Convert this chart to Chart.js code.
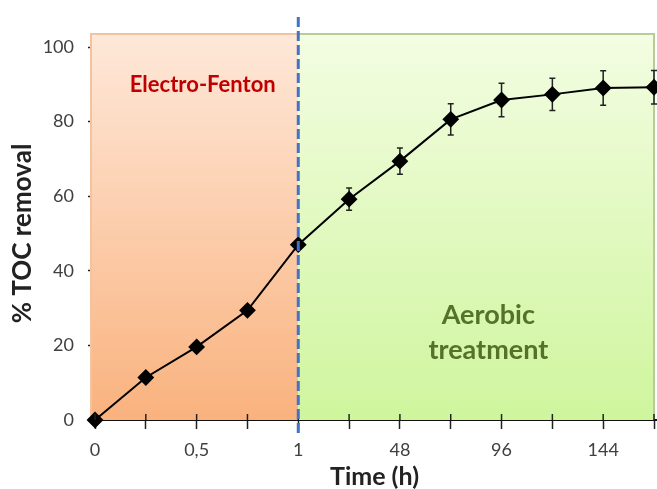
<!DOCTYPE html>
<html>
<head>
<meta charset="utf-8">
<script src="https://cdn.jsdelivr.net/npm/chart.js@4.4.0/dist/chart.umd.min.js"></script>
<style>
  html, body { margin: 0; padding: 0; background: #fff; }
  #wrap { width: 657px; height: 489px; }
</style>
</head>
<body>
<div id="wrap"><canvas id="tocChart" width="657" height="489"></canvas></div>
<script>
// sampling times (h) and what shows under each tick
const times = ['0', '0,25', '0,5', '0,75', '1', '24', '48', '72', '96', '120', '144', '168'];
const tickLabels = ['0', '', '0,5', '', '1', '', '48', '', '96', '', '144', ''];
// % TOC removal and error (+/-)
const tocRemoval = [0, 11.4, 19.6, 29.4, 47.0, 59.2, 69.4, 80.6, 85.8, 87.3, 89.0, 89.2];
const tocError = [0, 0, 0, 0, 0, 3.0, 3.5, 4.2, 4.5, 4.3, 4.6, 4.5];
const yTicks = [0, 20, 40, 60, 80, 100];

const switchIndex = 4; // end of electro-Fenton stage (t = 1 h)
const FONT = 'Lato, "Open Sans", sans-serif';

// coloured stage boxes + dashed separator
const stagePlugin = {
    id: 'stages',
    beforeDatasetsDraw(chart) {
        const { ctx, chartArea: a, scales: { x, y } } = chart;
        const top = a.top - 13;
        const xs = x.getPixelForValue(switchIndex);
        const x0 = x.getPixelForValue(0) - 4;

        let g = ctx.createLinearGradient(0, top, 0, a.bottom);
        g.addColorStop(0, '#fee8d9');
        g.addColorStop(1, '#f9b27e');
        ctx.save();
        ctx.fillStyle = g;
        ctx.fillRect(x0, top, xs - x0, a.bottom - top);
        ctx.strokeStyle = '#f3c29e';
        ctx.lineWidth = 2;
        ctx.beginPath();
        ctx.moveTo(x0, a.bottom); ctx.lineTo(x0, top); ctx.lineTo(xs, top);
        ctx.stroke();

        g = ctx.createLinearGradient(0, top, 0, a.bottom);
        g.addColorStop(0, '#f3fde2');
        g.addColorStop(1, '#cff59d');
        ctx.fillStyle = g;
        ctx.fillRect(xs, top, a.right - xs, a.bottom - top);
        ctx.strokeStyle = '#b9cc97';
        ctx.beginPath();
        ctx.moveTo(xs, top); ctx.lineTo(a.right, top); ctx.lineTo(a.right, a.bottom);
        ctx.stroke();

        // stage labels
        ctx.textAlign = 'center';
        ctx.textBaseline = 'middle';
        ctx.fillStyle = '#c00000';
        ctx.font = 'bold 22px ' + FONT;
        ctx.fillText('Electro-Fenton', x.getPixelForValue(2.12), y.getPixelForValue(89.8));
        ctx.fillStyle = '#56722a';
        ctx.font = 'bold 27px ' + FONT;
        ctx.fillText('Aerobic', x.getPixelForValue(7.74), y.getPixelForValue(28.2));
        ctx.fillText('treatment', x.getPixelForValue(7.74), y.getPixelForValue(18.8));
        ctx.restore();
    },
    afterDraw(chart) {
        const { ctx, chartArea: a, scales: { x } } = chart;
        const xs = x.getPixelForValue(switchIndex);
        ctx.save();
        // x axis runs on to the canvas edge, ticks cross the axis
        ctx.strokeStyle = '#111';
        ctx.lineWidth = 2;
        ctx.beginPath();
        ctx.moveTo(a.right, a.bottom); ctx.lineTo(chart.width, a.bottom);
        ctx.stroke();
        ctx.lineWidth = 1.5;
        ctx.strokeStyle = '#222';
        times.forEach((t, i) => {
            const px = x.getPixelForValue(i);
            ctx.beginPath();
            ctx.moveTo(px, a.bottom - 6); ctx.lineTo(px, a.bottom);
            ctx.stroke();
        });
        ctx.strokeStyle = '#4472c4';
        ctx.lineWidth = 3;
        ctx.setLineDash([10, 4]);
        ctx.beginPath();
        ctx.moveTo(xs, 17);
        ctx.lineTo(xs, a.bottom + 13);
        ctx.stroke();
        ctx.restore();
    }
};

// vertical error bars
const errorBarPlugin = {
    id: 'errorBars',
    beforeDatasetsDraw(chart) {
        const { ctx, scales: { x, y } } = chart;
        ctx.save();
        ctx.strokeStyle = '#222';
        ctx.lineWidth = 1.5;
        tocRemoval.forEach((v, i) => {
            const e = tocError[i];
            if (!e) return;
            const px = x.getPixelForValue(i);
            const hi = y.getPixelForValue(v + e);
            const lo = y.getPixelForValue(v - e);
            ctx.beginPath();
            ctx.moveTo(px, hi); ctx.lineTo(px, lo);
            ctx.moveTo(px - 3, hi); ctx.lineTo(px + 3, hi);
            ctx.moveTo(px - 3, lo); ctx.lineTo(px + 3, lo);
            ctx.stroke();
        });
        ctx.restore();
    }
};

new Chart(document.getElementById('tocChart'), {
    type: 'line',
    data: {
        labels: times,
        datasets: [{
            label: '% TOC removal',
            data: tocRemoval,
            borderColor: '#000',
            borderWidth: 2,
            backgroundColor: '#000',
            pointStyle: 'rectRot',
            pointRadius: 7,
            pointHoverRadius: 7,
            tension: 0,
            clip: false
        }]
    },
    options: {
        responsive: false,
        animation: false,
        layout: { autoPadding: false, padding: { left: 0, right: 3, top: 47, bottom: 0 } },
        plugins: { legend: { display: false }, tooltip: { enabled: false } },
        scales: {
            x: {
                type: 'category',
                offset: false,
                afterFit: s => { s.height = 69; s.paddingLeft = 0; s.paddingRight = 0; },
                grid: { drawOnChartArea: false, tickLength: 9, color: '#222', tickWidth: 1.5 },
                border: { color: '#111', width: 2 },
                ticks: {
                    autoSkip: false, maxRotation: 0, padding: 10,
                    color: '#404040', font: { family: FONT, size: 18 },
                    callback: (v, i) => tickLabels[i]
                },
                title: {
                    display: true, text: 'Time (h)', color: '#222',
                    font: { family: FONT, size: 25, weight: 'bold', lineHeight: 1 },
                    padding: { top: 0, bottom: 0 }
                }
            },
            y: {
                min: 0, max: 100,
                afterFit: s => { s.width = 95; s.paddingTop = 0; s.paddingBottom = 0; },
                afterBuildTicks: s => { s.ticks = yTicks.map(v => ({ value: v })); },
                grid: { drawOnChartArea: false, tickLength: 7, color: '#2a2018', tickWidth: 1.5 },
                border: { color: '#2a2018', width: 2 },
                ticks: { padding: 14, color: '#404040', font: { family: FONT, size: 18 } },
                title: {
                    display: true, text: '% TOC removal', color: '#222',
                    font: { family: FONT, size: 26, weight: 'bold', lineHeight: 1 },
                    padding: { top: 10, bottom: 0 }
                }
            }
        }
    },
    plugins: [stagePlugin, errorBarPlugin]
});
</script>
</body>
</html>
